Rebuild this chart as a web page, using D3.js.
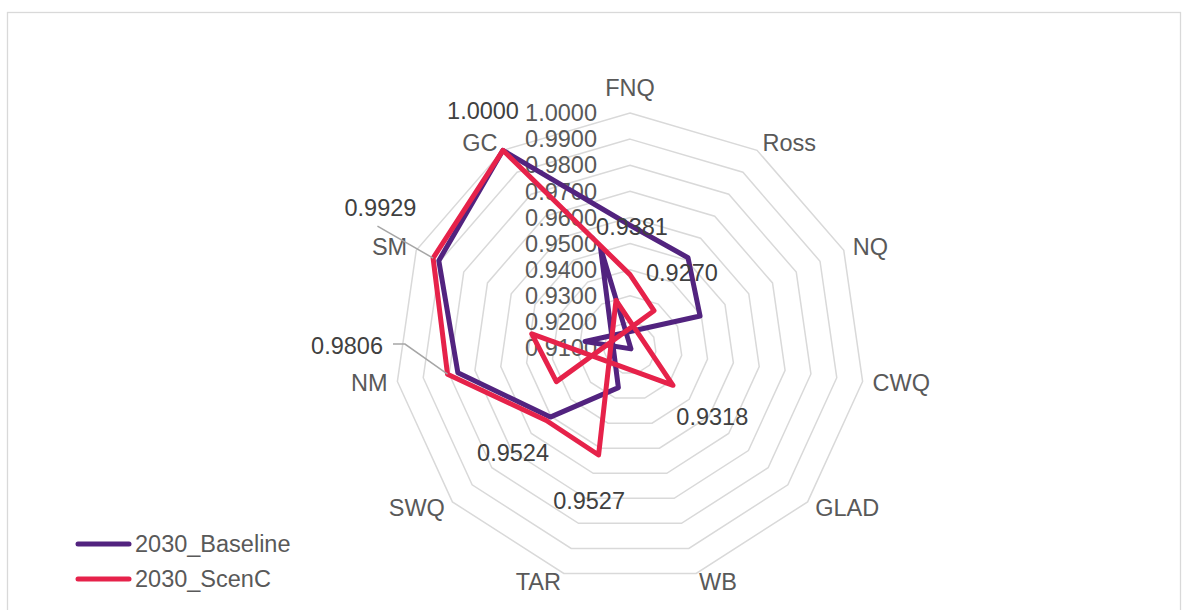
<!DOCTYPE html>
<html>
<head>
<meta charset="utf-8">
<script src="https://cdn.jsdelivr.net/npm/d3@7"></script>
<style>
  html, body { margin: 0; padding: 0; background: #ffffff; }
  svg { display: block; }
  text { font-family: "Liberation Sans", Arial, sans-serif; }
</style>
</head>
<body>
<svg id="chart" width="1189" height="610"></svg>
<script>
// Regions around the radar, clockwise from the top
const categories = ["FNQ", "Ross", "NQ", "CWQ", "GLAD", "WB", "TAR", "SWQ", "NM", "SM", "GC"];

// Index values per region
const baselineValues = [0.9570, 0.9511, 0.9395, 0.8926, 0.9105, 0.8699, 0.9258, 0.9504, 0.9766, 0.9905, 1.0000];
const scenCValues    = [0.9381, 0.9270, 0.8790, 0.8720, 0.9318, 0.8910, 0.9527, 0.9524, 0.9806, 0.9929, 1.0000];

// Radial axis ticks
const tickValues = [0.91, 0.92, 0.93, 0.94, 0.95, 0.96, 0.97, 0.98, 0.99, 1.00];

const seriesNames = ["2030_Baseline", "2030_ScenC"];

// Which ScenC points carry a value label
const scenCLabelShown = [true, true, false, false, true, false, true, true, true, true, true];

// ---- layout ----
const cx = 630, cy = 348, R = 235;
const colors = ["#52237F", "#E6224A"];
const gridColor = "#D9D9D9";
const textColor = "#595959";
const labelColor = "#404040";
const fontSize = 23.5;

// Label nudges (px) for the ScenC value labels, and which ones use a leader line
const labelNudge = [[2, 0], [2, 2], [0, 0], [0, 0], [3, 0], [0, 0], [4, 0], [3, 1], [-53, -35], [-9, -30], [6, 1]];
const labelLeader = [false, false, false, false, false, false, false, false, "side", "bottom", false];

const svg = d3.select("#chart");

// chart area border
svg.append("rect")
  .attr("x", 7.5).attr("y", 12.5)
  .attr("width", 1173).attr("height", 620)
  .attr("fill", "#ffffff")
  .attr("stroke", gridColor).attr("stroke-width", 1.3);

const n = categories.length;
const angle = d3.scaleLinear().domain([0, n]).range([0, 2 * Math.PI]);
const r = d3.scaleLinear().domain([tickValues[0], tickValues[tickValues.length - 1]]).range([0, R]);

const g = svg.append("g").attr("transform", `translate(${cx},${cy})`);

// grid rings (polygons)
const ring = d3.lineRadial()
  .angle((d, i) => angle(i))
  .radius(d => r(d))
  .curve(d3.curveLinearClosed);

g.append("g").selectAll("path")
  .data(tickValues.slice(1))
  .join("path")
  .attr("d", v => ring(categories.map(() => v)))
  .attr("fill", "none")
  .attr("stroke", gridColor)
  .attr("stroke-width", 1.5);

// radial tick labels along the top axis
g.append("g").selectAll("text")
  .data(tickValues)
  .join("text")
  .attr("x", -33)
  .attr("y", v => -r(v))
  .attr("dy", "0.35em")
  .attr("text-anchor", "end")
  .attr("font-size", fontSize)
  .attr("fill", textColor)
  .text(d3.format(".4f"));

// category labels
const pt = (i, rad) => [rad * Math.sin(angle(i)), -rad * Math.cos(angle(i))];
g.append("g").selectAll("text")
  .data(categories)
  .join("text")
  .each(function (c, i) {
    const s = Math.sin(angle(i)), co = Math.cos(angle(i));
    const [vx, vy] = pt(i, R);
    const t = d3.select(this);
    if (Math.abs(s) < 0.1) {
      t.attr("x", vx).attr("y", vy - 13 - 12).attr("text-anchor", "middle");
    } else {
      t.attr("x", vx + 10 * s).attr("y", vy - 8.5 * co)
       .attr("text-anchor", s > 0 ? "start" : "end");
    }
  })
  .attr("dy", "0.35em")
  .attr("font-size", fontSize)
  .attr("fill", textColor)
  .text(d => d);

// series lines
const line = d3.lineRadial()
  .angle((d, i) => angle(i))
  .radius(d => r(d))
  .curve(d3.curveLinearClosed);

[baselineValues, scenCValues].forEach((vals, k) => {
  g.append("path")
    .attr("d", line(vals))
    .attr("fill", "none")
    .attr("stroke", colors[k])
    .attr("stroke-width", 5)
    .attr("stroke-linejoin", "round");
});

// ScenC value labels
const fmt = d3.format(".4f");
const lbl = g.append("g");
scenCValues.forEach((v, i) => {
  if (!scenCLabelShown[i]) return;
  const [px, py] = pt(i, r(v));
  const [ox, oy] = pt(i, r(v) + 48);
  const lx = ox + labelNudge[i][0], ly = oy + labelNudge[i][1];
  const txt = lbl.append("text")
    .attr("x", lx).attr("y", ly)
    .attr("dy", "0.35em")
    .attr("text-anchor", "middle")
    .attr("font-size", fontSize)
    .attr("fill", labelColor)
    .text(fmt(v));
  if (labelLeader[i]) {
    const w = txt.node().getComputedTextLength();
    let pts;
    if (labelLeader[i] === "side") {
      const sx = lx + w / 2 + 10;
      pts = [[sx, ly - 2], [sx + 12, ly - 2], [px, py]];
    } else {
      pts = [[lx - 3, ly + 18], [px, py]];
    }
    lbl.append("path")
      .attr("d", d3.line()(pts))
      .attr("fill", "none")
      .attr("stroke", "#A6A6A6")
      .attr("stroke-width", 1.5);
  }
});

// legend
const legend = svg.append("g");
seriesNames.forEach((name, k) => {
  const y = 544 + k * 35;
  legend.append("line")
    .attr("x1", 78).attr("x2", 129)
    .attr("y1", y).attr("y2", y)
    .attr("stroke", colors[k])
    .attr("stroke-width", 5)
    .attr("stroke-linecap", "round");
  legend.append("text")
    .attr("x", 135).attr("y", y)
    .attr("dy", "0.35em")
    .attr("font-size", fontSize)
    .attr("fill", textColor)
    .text(name);
});
</script>
</body>
</html>
